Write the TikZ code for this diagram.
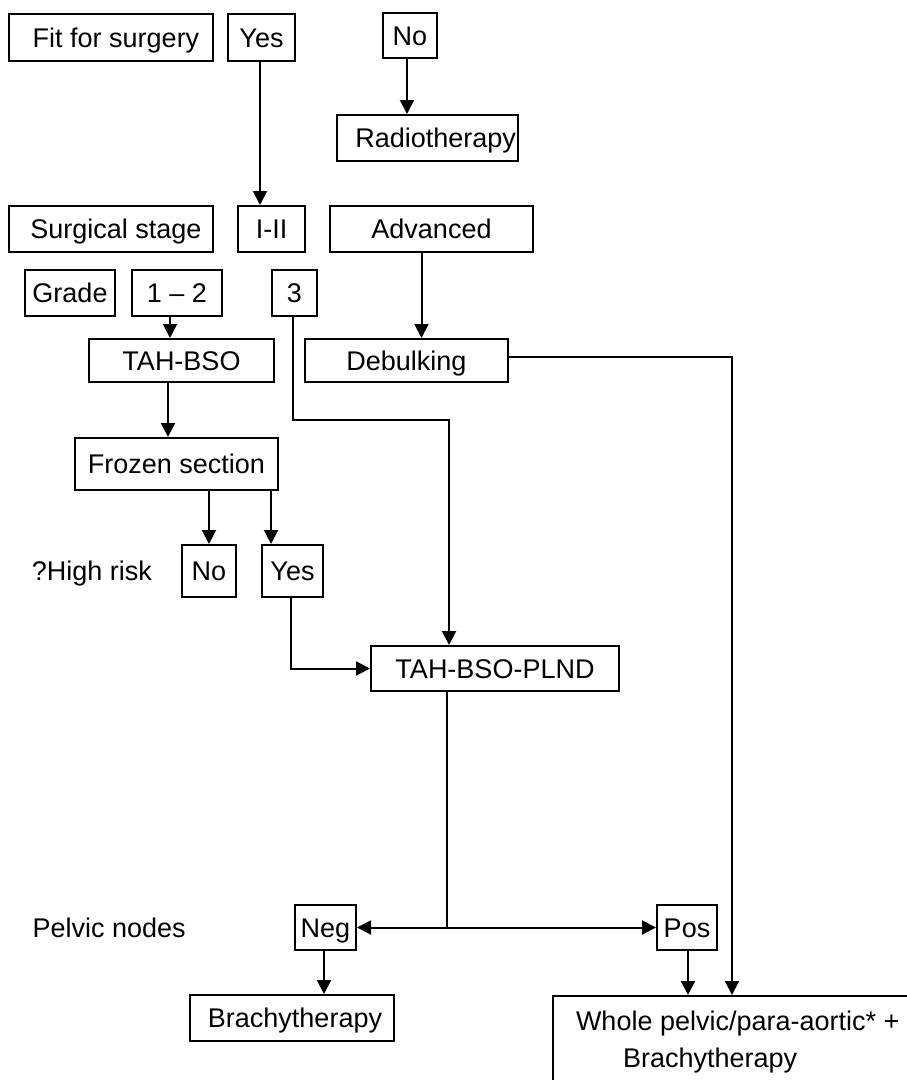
\documentclass[tikz,border=0pt]{standalone}
\usepackage{fontspec}
\setmainfont{Liberation Sans}
\usetikzlibrary{positioning, arrows.meta}

\begin{document}
\begin{tikzpicture}[
    x=1pt, y=-1pt,
    % Node styles
    box/.style={
        draw, line width=2pt, inner sep=0pt,
        minimum height=46pt, text height=19.3pt, text depth=0pt,
        font=\fontsize{27}{37}\selectfont
    },
    plain/.style={
        inner sep=0pt, text height=19.3pt, text depth=0pt,
        font=\fontsize{27}{37}\selectfont
    },
    % Edge styles
    edge/.style={draw, line width=2pt},
    arrow/.style={-{Triangle[length=14pt, width=14pt]}, line width=2pt},
]

\useasboundingbox (0,0) rectangle (907,1080);
\clip (0,0) rectangle (907,1080);

% ===== FIT FOR SURGERY =====
\node[box, minimum width=204pt, minimum height=47pt] (fit) at (111,37.5) {\hspace*{10pt}Fit for surgery};
\node[box, minimum width=67pt, minimum height=47pt, right=13pt of fit] (fit-yes) {Yes};
\node[box, minimum width=54pt, minimum height=45pt] (fit-no) at (410,35.5) {No};
\node[box, text width=177pt, align=right, inner xsep=2pt] (radio) at (427.5,138) {Radiotherapy};

\draw[arrow] ([xshift=-3pt]fit-no.south) -- ([xshift=-3pt]fit-no.south |- radio.north);

% ===== SURGICAL STAGE =====
\node[box, minimum width=204pt] (stage) at (111,229) {\hspace*{10pt}Surgical stage};
\node[box, minimum width=67pt, right=23pt of stage] (stage-early) {I-II};
\node[box, minimum width=203pt, right=23pt of stage-early] (stage-adv) {Advanced};

\draw[arrow] ([xshift=-1.5pt]fit-yes.south) -- ([xshift=-1.5pt]fit-yes.south |- stage-early.north);

% ===== GRADE =====
\node[box, minimum width=90pt] (grade) at (70,293) {Grade};
\node[box, minimum width=90pt, right=15pt of grade] (grade-low) {1 – 2};
\node[box, minimum width=45pt, right=48pt of grade-low] (grade-high) {3};

% ===== SURGERY =====
\node[box, minimum width=185pt, minimum height=43pt] (tahbso) at (181.5,360.5) {TAH-BSO};
\node[box, minimum width=203pt, minimum height=43pt, right=29pt of tahbso] (debulk) {Debulking};

\draw[arrow] ([xshift=-7pt]grade-low.south) -- ([xshift=-7pt]grade-low.south |- tahbso.north);
\draw[arrow] ([xshift=-10pt]stage-adv.south) -- ([xshift=-10pt]stage-adv.south |- debulk.north);

% Frozen section
\node[box, minimum width=203pt, minimum height=52pt] (frozen) at (176.5,464) {Frozen section};
\draw[arrow] ([xshift=-13.5pt]tahbso.south) -- ([xshift=-13.5pt]tahbso.south |- frozen.north);

% ===== HIGH RISK =====
\node[box, minimum width=54pt, minimum height=52pt] (risk-no) at (209,571) {No};
\node[box, minimum width=61pt, minimum height=52pt, right=24pt of risk-no] (risk-yes) {Yes};
\node[plain, left=29pt of risk-no] (risk) {?High risk};

\coordinate (yes-in) at ([xshift=-21.5pt]risk-yes.north);
\draw[arrow] (frozen.south -| risk-no) -- (risk-no.north);
\draw[arrow] (frozen.south -| yes-in) -- (yes-in);

% ===== STAGING SURGERY =====
\node[box, minimum width=248pt, minimum height=45pt] (plnd) at (495,668.5) {TAH-BSO-PLND};

\draw[arrow] ([xshift=-1.5pt]risk-yes.south) |- (plnd.west);
\draw[arrow] ([xshift=-1.5pt]grade-high.south) -- ++(0,103) -| ([xshift=-46pt]plnd.north);

% ===== PELVIC NODES =====
\node[box, minimum width=61pt, minimum height=45pt] (neg) at (325.5,927.5) {Neg};
\node[box, minimum width=60pt, minimum height=45pt] (pos) at (687,927.5) {Pos};
\node[plain, left=108pt of neg] (pelvic) {Pelvic nodes};

\coordinate (split) at (447,927.5);
\draw[edge] ([xshift=-48pt]plnd.south) -- (split);
\draw[arrow] (split) -- (neg.east);
\draw[arrow] (split) -- (pos.west);

% ===== TREATMENT =====
\node[box, minimum width=204pt] (brachy) at (292,1018) {\hspace*{6pt}Brachytherapy};
\node[box, anchor=north west, inner xsep=23pt, inner ysep=0pt, text height=34pt, text depth=120pt,
    minimum width=420pt] (whole) at (552,995)
    {\parbox[t]{377pt}{Whole pelvic/para-aortic* +\\\hspace*{47pt}Brachytherapy}};

\draw[arrow] ([xshift=-1.5pt]neg.south) -- ([xshift=-1.5pt]neg.south |- brachy.north);
\draw[arrow] ([xshift=1pt]pos.south) -- ([xshift=1pt]pos.south |- whole.north);
\draw[arrow] ([yshift=4pt]debulk.east) -| ([xshift=180pt]whole.north west);

\end{tikzpicture}
\end{document}
